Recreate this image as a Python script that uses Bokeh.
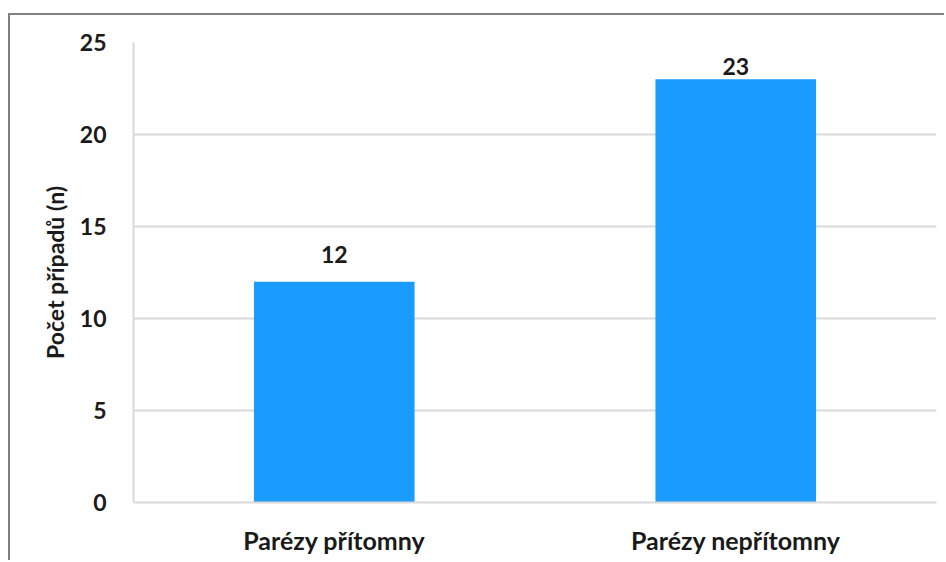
from bokeh.plotting import figure
from bokeh.models import ColumnDataSource, FactorRange, Range1d, LabelSet, FixedTicker
from bokeh.core.properties import value
from bokeh.embed import file_html
from bokeh.resources import INLINE

categories = ["Parézy přítomny", "Parézy nepřítomny"]
counts = [12, 23]
y_ticks = [0, 5, 10, 15, 20, 25]
y_label = "Počet případů (n)"

Y_MAX = 25
FRAME_H = 460
PX = FRAME_H / Y_MAX            # pixels per unit
GAP_PX = 19                     # label gap above bar
TOP_CLAMP_PX = 32               # label anchor kept this far below frame top
label_y = [min(v + GAP_PX / PX, Y_MAX - TOP_CLAMP_PX / PX) for v in counts]

src = ColumnDataSource(dict(cat=categories, val=counts, lab=[str(v) for v in counts], ly=label_y))

p = figure(x_range=FactorRange(*categories, range_padding=0), y_range=Range1d(0, Y_MAX),
           width=936, height=547, output_backend="svg", toolbar_location=None,
           min_border_left=123, min_border_right=10, min_border_top=27, min_border_bottom=60)
p.styles = {"margin-left": "8px", "margin-top": "13px",
            "border-left": "2px solid #808080", "border-top": "2px solid #808080"}
p.outline_line_color = None
p.background_fill_color = "white"
p.border_fill_color = "white"

p.vbar(x="cat", top="val", width=0.4, source=src, fill_color="#1A9BFF", line_color=None)

labels = LabelSet(x="cat", y="ly", text="lab", source=src, text_align="center",
                  text_baseline="bottom", text_font=value("Lato"),
                  text_font_style="bold", text_font_size="23px", text_color="#1a1a1a")
p.add_layout(labels)

p.xgrid.grid_line_color = None
p.ygrid.grid_line_color = "#D9D9D9"
p.ygrid.grid_line_width = 2
p.yaxis.ticker = FixedTicker(ticks=y_ticks)

for ax in (p.xaxis[0], p.yaxis[0]):
    ax.axis_line_color = "#D9D9D9"
    ax.axis_line_width = 2
    ax.major_tick_line_color = None
    ax.minor_tick_line_color = None
    ax.major_label_text_font = "Lato"
    ax.major_label_text_font_style = "bold"
    ax.major_label_text_color = "#1a1a1a"

p.yaxis.major_label_text_font_size = "23px"
p.xaxis.major_label_text_font_size = "25px"
p.xaxis.major_label_standoff = 16
p.yaxis.major_label_standoff = 21
p.yaxis.axis_label = y_label
p.yaxis.axis_label_text_font = "Lato"
p.yaxis.axis_label_text_font_style = "bold"
p.yaxis.axis_label_text_font_size = "23px"
p.yaxis.axis_label_text_color = "#1a1a1a"
p.yaxis.axis_label_standoff = 8

open("out.html", "w").write(file_html(p, INLINE))
